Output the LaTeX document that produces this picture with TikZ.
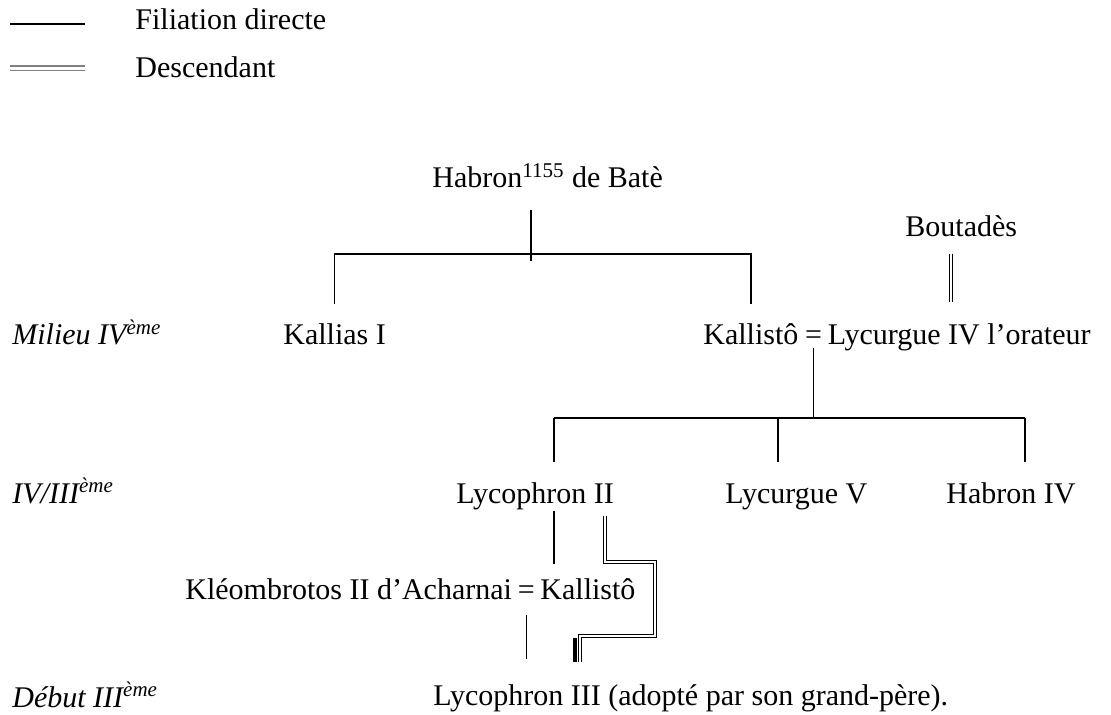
\documentclass[tikz,border=0pt]{standalone}
\usepackage{fontspec}
\setmainfont{Liberation Serif}
\usetikzlibrary{calc,positioning}

\begin{document}
\begin{tikzpicture}[x=0.5pt, y=-0.5pt,
        person/.style={inner sep=0pt, anchor=base west, font=\fontsize{15}{18}\selectfont},
        era/.style={person, font=\fontsize{15}{18}\selectfont\itshape},
        filiation/.style={draw=black, line width=0.7pt},
        descend/.style={draw=black, line width=0.6pt, double=white, double distance=0.9pt},
        keydescend/.style={draw=gray, line width=0.75pt, double=white, double distance=1.5pt}
      ]
        \useasboundingbox (0,0) rectangle (1111,715);

        % legend
        \node[person] (keyfiltext) at (135,30) {Filiation directe};
        \node[person] (keydesctext) at (135,78) {Descendant};
        \coordinate (keyfil) at (10,24);
        \coordinate (keydesc) at (10,68.5);
        \draw[filiation] (keyfil) -- ++(75,0);
        \draw[keydescend] (keydesc) -- ++(75,0);

        % generations
        \node[era] (milieu) at (12,345) {Milieu IV\textsuperscript{ème}};
        \node[era] (ivIII)  at (12,503) {IV/III\textsuperscript{ème}};
        \node[era] (debut)  at (12,707) {Début III\textsuperscript{ème}};

        % people
        \node[person] (habron)   at (432,188) {Habron\textsuperscript{1155} de Batè};
        \node[person] (boutades) at (905,237) {Boutadès};
        \node[person] (kallias)  at (283,345) {Kallias I};
        \node[person] (kallisto) at (703,345) {Kallistô};
        \node[person, base right=0.3em of kallisto] (eqA) {=};
        \node[person, base right=0.25em of eqA] (lycurgueIV) {Lycurgue IV l’orateur};
        \node[person] (lycoII)    at (456,503) {Lycophron II};
        \node[person] (lycurgueV) at (725,503) {Lycurgue V};
        \node[person] (habronIV)  at (946,503) {Habron IV};
        \node[person] (kleombrotos) at (185,599) {Kléombrotos II d’Acharnai};
        \node[person, base right=0.25em of kleombrotos] (eqB) {=};
        \node[person, base right=0.25em of eqB] (kallistoB) {Kallistô};
        \node[person] (lycoIII) at (433,705) {Lycophron III (adopté par son grand-père).};

        % Habron's children
        \coordinate (forkA) at (531,254);
        \draw[filiation] ($(forkA |- habron.south)+(0,21)$) -- ++(0,51);
        \draw[filiation] ($(kallias.north)+(0,-20)$) |- (forkA) -| ($(kallisto.north)+(0,-20)$);

        % Boutades
        \coordinate (boutline) at (951,0);
        \draw[descend] ($(boutline |- boutades.south)+(0,16)$) -- ($(boutline |- lycurgueIV.north)+(0,-22)$);

        % children of Kallisto and Lycurgue IV
        \coordinate (childA) at (554,418);
        \coordinate (childB) at (778,418);
        \coordinate (childC) at (1025,418);
        \draw[filiation] ($(eqA.south)+(0,3)$) -- (eqA.south |- childA);
        \draw[filiation] (childA) -- (childC);
        \foreach \c in {childA,childB,childC}
          \draw[filiation] (\c) -- ($(\c |- lycoII.north)+(0,-20)$);

        % Lycophron II
        \draw[filiation] ($(childA |- lycoII.south)+(0,1)$) -- ($(childA |- kallistoB.north)+(0,-14)$);
        \coordinate (dblA) at (605,562);
        \coordinate (dblB) at (655,562);
        \coordinate (dblC) at (655,636);
        \coordinate (dblD) at (580,636);
        \draw[descend] ($(dblA |- lycoII.south)+(0,6)$) -- (dblA) -- (dblB) -- (dblC) -- (dblD)
          -- ($(dblD |- lycoIII.north)+(0,-22)$);
        \fill ($(dblD)+(-7,2)$) rectangle ($(dblD |- lycoIII.north)+(-3,-22)$);

        % Kleombrotos and Kallisto
        \draw[filiation] ($(eqB.south)+(0,16)$) -- ($(eqB.south |- lycoIII.north)+(0,-25)$);
      \end{tikzpicture}
\end{document}
